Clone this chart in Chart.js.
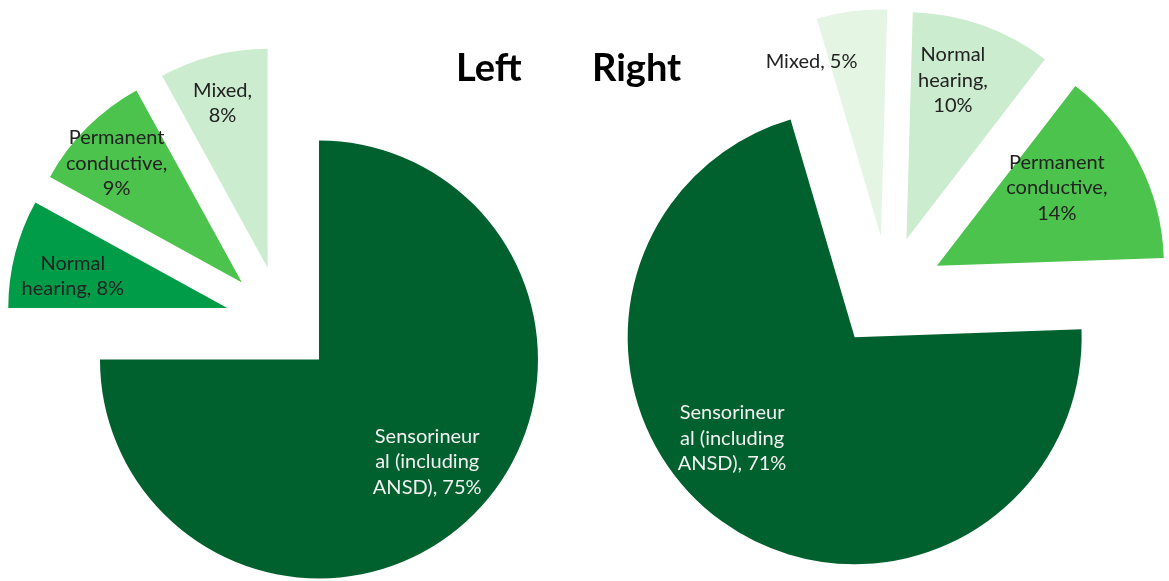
<!DOCTYPE html>
<html>
<head>
<meta charset="utf-8">
<script src="https://cdn.jsdelivr.net/npm/chart.js@4.4.0/dist/chart.umd.min.js"></script>
<style>
  html, body { margin: 0; padding: 0; background: #ffffff; overflow: hidden; }
  #wrap { position: relative; width: 1169px; height: 581px; }
  .layer { position: absolute; left: 0; top: 0; width: 1169px; height: 581px; }
  .ttl { position: absolute; font-family: Lato, "Open Sans", sans-serif; font-weight: 700;
         font-size: 38px; color: #000; line-height: 1; white-space: nowrap; }
</style>
</head>
<body>
<div id="wrap">
  <canvas id="leftPie" class="layer" width="1169" height="581"></canvas>
  <canvas id="rightPie" class="layer" width="1169" height="581"></canvas>
  <div class="ttl" id="tLeft" style="left:456px; top:47px;">Left</div>
  <div class="ttl" id="tRight" style="left:592px; top:47px;">Right</div>
</div>
<script>
// Hearing loss type, left ear (percent)
const leftCategories = ["Sensorineural (including ANSD)", "Normal hearing", "Permanent conductive", "Mixed"];
const leftValues = [75, 8, 9, 8];
const leftColors = ["#00602e", "#009c48", "#4cc34c", "#cbecce"];

// Hearing loss type, right ear (percent)
const rightCategories = ["Sensorineural (including ANSD)", "Mixed", "Normal hearing", "Permanent conductive"];
const rightValues = [71, 5, 10, 14];
const rightColors = ["#00602e", "#e4f5e4", "#cbecce", "#4cc34c"];

// Wrapped data-label text; "{v}" is filled with the slice value
const leftLabelLines = [
  ["Sensorineur", "al (including", "ANSD), {v}%"],
  ["Normal", "hearing, {v}%"],
  ["Permanent", "conductive,", "{v}%"],
  ["Mixed,", "{v}%"]
];
const rightLabelLines = [
  ["Sensorineur", "al (including", "ANSD), {v}%"],
  ["Mixed, {v}%"],
  ["Normal", "hearing,", "{v}%"],
  ["Permanent", "conductive,", "{v}%"]
];

// Slice explosion distance (px) along each slice's bisector
const leftExplode = [53, 56, 56, 56];
const rightExplode = [57, 55, 55, 55];

// Label anchor: fraction of radius from slice tip, angular nudge (deg) from bisector
const leftLabelPlace = [[0.68, -1.6], [0.72, -2.7], [0.79, -1.4], [0.78, -0.9]];
const rightLabelPlace = [[0.70, 14.7], [0.83, -14.2], [0.73, -3.3], [0.63, -5.8]];
const leftLabelColors = ["#f2f2f2", "#222222", "#222222", "#222222"];
const rightLabelColors = ["#f2f2f2", "#222222", "#222222", "#222222"];

const LABEL_FONT = '20px Lato, "Open Sans", sans-serif';
const LABEL_LINE = 25.5;

// Moves each arc away from the pie centre along its bisector
const explodePlugin = {
  id: 'explode',
  beforeDatasetsDraw(chart, args, opts) {
    const area = chart.chartArea;
    const meta = chart.getDatasetMeta(0);
    const cx = (area.left + area.right) / 2 + (meta.controller.offsetX || 0);
    const cy = (area.top + area.bottom) / 2 + (meta.controller.offsetY || 0);
    meta.data.forEach((arc, i) => {
      const mid = (arc.startAngle + arc.endAngle) / 2;
      const d = opts.amounts[i] || 0;
      arc.x = cx + Math.cos(mid) * d;
      arc.y = cy + Math.sin(mid) * d;
    });
  }
};

// Draws "category, value%" labels inside / beside each slice
const labelPlugin = {
  id: 'sliceLabels',
  afterDatasetsDraw(chart, args, opts) {
    const ctx = chart.ctx;
    const meta = chart.getDatasetMeta(0);
    const values = chart.data.datasets[0].data;
    ctx.save();
    ctx.font = LABEL_FONT;
    ctx.textAlign = 'center';
    ctx.textBaseline = 'middle';
    meta.data.forEach((arc, i) => {
      const [frac, nudge] = opts.place[i];
      const ang = (arc.startAngle + arc.endAngle) / 2 + nudge * Math.PI / 180;
      const r = frac * arc.outerRadius;
      const x = arc.x + Math.cos(ang) * r;
      const y = arc.y + Math.sin(ang) * r;
      const lines = opts.lines[i].map(s => s.replace('{v}', values[i]));
      const top = y - (lines.length - 1) * LABEL_LINE / 2;
      ctx.fillStyle = opts.colors[i];
      lines.forEach((ln, k) => ctx.fillText(ln, x, top + k * LABEL_LINE));
    });
    ctx.restore();
  }
};

function makePie(canvasId, cats, vals, colors, rotation, radius, padding, explode, place, lines, labelColors) {
  return new Chart(document.getElementById(canvasId), {
    type: 'pie',
    data: {
      labels: cats,
      datasets: [{
        data: vals,
        backgroundColor: colors,
        borderWidth: 0,
        clip: false
      }]
    },
    options: {
      responsive: false,
      animation: false,
      events: [],
      rotation: rotation,
      radius: radius,
      layout: { padding: padding },
      plugins: {
        legend: { display: false },
        tooltip: { enabled: false },
        title: { display: false },
        explode: { amounts: explode },
        sliceLabels: { place: place, lines: lines, colors: labelColors }
      }
    },
    plugins: [explodePlugin, labelPlugin]
  });
}

makePie('leftPie', leftCategories, leftValues, leftColors, 0, 219,
        { left: 0, right: 606, top: 63, bottom: 0 },
        leftExplode, leftLabelPlace, leftLabelLines, leftLabelColors);

makePie('rightPie', rightCategories, rightValues, rightColors, 88, 227,
        { left: 607, right: 0, top: 1, bottom: 0 },
        rightExplode, rightLabelPlace, rightLabelLines, rightLabelColors);
</script>
</body>
</html>
